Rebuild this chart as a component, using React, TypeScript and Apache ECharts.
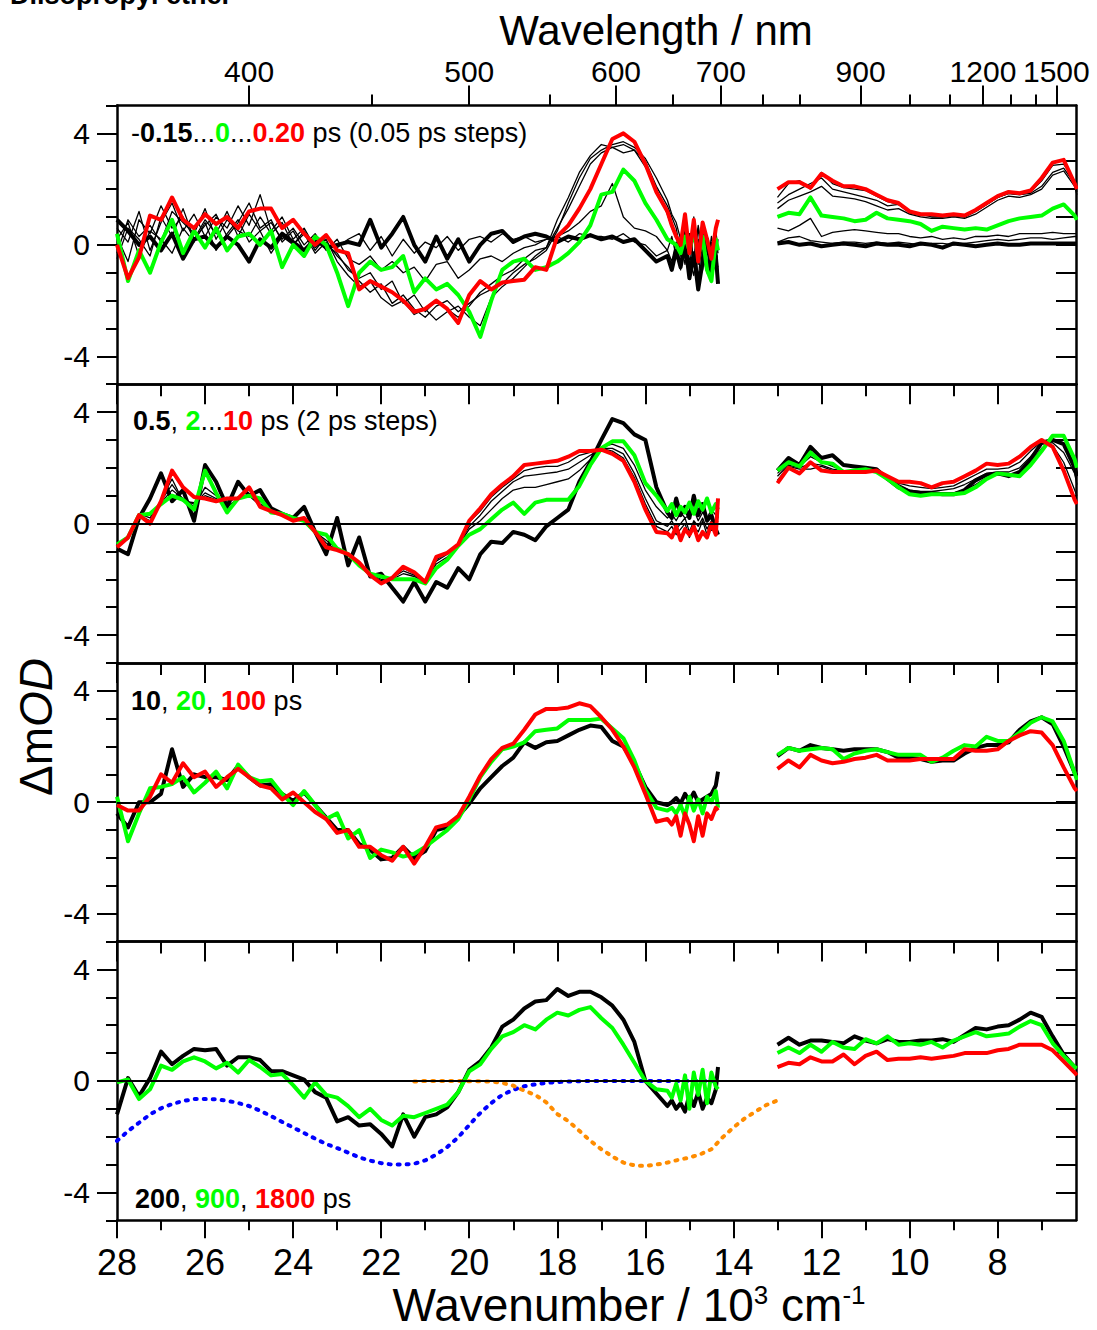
import React, { useEffect, useRef } from "react";
import * as echarts from "echarts";

// Wavenumber sampling (10^3 cm^-1) of the visible and NIR detector ranges;
// the visible range is sampled more densely near its noisy red edge.
const WN_VIS = [28, 27.75, 27.5, 27.25, 27, 26.75, 26.5, 26.25, 26, 25.75, 25.5, 25.25, 25, 24.75, 24.5, 24.25, 24, 23.75, 23.5, 23.25, 23, 22.75, 22.5, 22.25, 22, 21.75, 21.5, 21.25, 21, 20.75, 20.5, 20.25, 20, 19.75, 19.5, 19.25, 19, 18.75, 18.5, 18.25, 18, 17.75, 17.5, 17.25, 17, 16.75, 16.5, 16.25, 16, 15.75, 15.5, 15.4, 15.3, 15.2, 15.1, 15.0, 14.9, 14.8, 14.7, 14.6, 14.5, 14.4, 14.35];
const WN_NIR = [13, 12.75, 12.5, 12.25, 12, 11.75, 11.5, 11.25, 11, 10.75, 10.5, 10.25, 10, 9.75, 9.5, 9.25, 9, 8.75, 8.5, 8.25, 8, 7.75, 7.5, 7.25, 7, 6.75, 6.5, 6.25, 6.2];

// Panel 1: -0.15 ... 0.20 ps
const P1_M015_VIS = [0.9, 0.5, 0.0, 0.3, -0.2, 0.4, -0.5, 0.2, 0.3, -0.1, 0.3, 0.0, -0.6, 0.2, -0.1, 0.4, 0.1, -0.2, 0.2, -0.1, 0.0, 0.1, 0.0, 0.9, -0.1, 0.4, 1.0, 0.0, -0.6, 0.3, -0.5, 0.2, -0.6, 0.0, 0.4, 0.5, 0.1, 0.3, 0.4, 0.3, 0.1, 0.3, 0.2, 0.35, 0.2, 0.3, 0.1, 0.2, -0.2, -0.6, -0.4, -0.9, -0.2, -0.8, 0.1, -1.2, -0.3, -1.6, -0.6, 0.2, -1.0, -0.4, -1.4];
const P1_M015_NIR = [0.05, 0.1, 0.0, 0.05, -0.05, 0.0, 0.05, 0.0, -0.05, 0.05, 0.0, 0.0, -0.05, 0.05, 0.0, -0.1, 0.05, 0.0, -0.05, 0.0, 0.05, 0.0, 0.0, 0.05, 0.05, 0.05, 0.05, 0.05, 0.05];
const P1_M010_VIS = [0.2, 0.8, -0.4, 0.5, 0.2, -0.3, 0.6, 0.1, 0.8, -0.2, 0.4, 0.9, 0.1, 0.5, -0.3, 0.3, 0.0, 0.5, -0.2, 0.3, -0.1, 0.2, 0.4, -0.2, 0.3, -0.4, 0.2, -0.3, 0.1, -0.1, 0.3, -0.2, 0.2, 0.3, 0.1, 0.4, 0.2, 0.3, 0.1, 0.2, 0.3, 0.1, 0.4, 0.3, 0.3, 0.2, 0.4, 0.1, 0.0, -0.4, -0.2, -0.6, 0.1, -0.9, 0.3, -0.5, -1.1, 0.2, -0.4, -1.0, 0.1, -0.6, -0.8];
const P1_M010_NIR = [0.1, 0.25, 0.3, 0.15, 0.1, 0.05, 0.1, 0.1, 0.05, 0.1, 0.05, 0.1, 0.05, 0.0, 0.05, 0.05, 0.0, 0.05, 0.1, 0.15, 0.2, 0.15, 0.2, 0.25, 0.25, 0.2, 0.25, 0.3, 0.3];
const P1_M005_VIS = [-0.5, 0.6, 0.2, -0.4, 1.0, 0.3, 1.3, 0.2, 0.9, 0.4, 1.2, 0.3, 1.1, 0.5, 0.8, 0.2, 0.6, 0.0, 0.4, -0.2, 0.2, -0.5, -0.7, -0.4, -0.9, -0.6, -1.0, -0.8, -1.3, -0.7, -0.6, -1.2, -0.9, -0.5, -0.4, -0.6, -0.3, -0.1, 0.0, 0.2, 0.3, 0.5, 0.8, 1.2, 1.4, 2.2, 1.0, 0.6, 0.5, 0.3, -0.2, 0.3, -0.4, 0.1, -0.7, 0.4, -0.5, 0.6, -0.9, 0.2, -0.6, 0.3, -0.3];
const P1_M005_NIR = [0.6, 0.5, 0.7, 0.95, 0.3, 0.45, 0.5, 0.55, 0.5, 0.45, 0.4, 0.4, 0.3, 0.25, 0.3, 0.2, 0.25, 0.2, 0.3, 0.3, 0.35, 0.3, 0.4, 0.4, 0.4, 0.45, 0.4, 0.4, 0.4];
const P1_P000_VIS = [0.4, -1.3, -0.2, -1.0, 0.1, 0.9, -0.3, 0.5, -0.1, 0.6, -0.2, 0.3, 0.4, 0.0, 0.5, -0.8, 0.0, -0.4, 0.3, 0.0, -1.0, -2.2, -1.0, -0.6, -0.9, -0.8, -0.4, -1.7, -1.2, -1.6, -1.4, -1.8, -2.4, -3.3, -2.0, -0.9, -0.6, -0.5, -0.9, -0.8, -0.6, -0.3, 0.1, 0.7, 1.8, 1.9, 2.7, 2.3, 1.5, 0.9, 0.2, 0.1, 0.0, -0.3, 0.3, -0.2, 0.5, -0.4, 0.3, -0.9, -1.3, 0.2, -0.2];
const P1_P000_NIR = [1.0, 1.15, 1.1, 1.7, 1.05, 1.0, 0.95, 0.85, 0.9, 1.15, 0.95, 0.9, 0.85, 0.75, 0.5, 0.65, 0.6, 0.55, 0.6, 0.55, 0.7, 0.85, 0.95, 1.0, 1.05, 1.3, 1.45, 1.05, 0.9];
const P1_P005_VIS = [0.3, -0.6, 0.9, 0.4, 1.4, 0.6, 1.0, 0.2, 0.7, 1.1, 0.3, 0.8, 1.5, 0.6, 0.9, 0.1, 0.5, -0.2, 0.3, 0.0, -0.3, -0.9, -1.2, -1.0, -1.6, -1.3, -2.1, -1.8, -2.4, -2.0, -2.3, -2.6, -2.2, -1.7, -1.4, -1.1, -0.9, -0.5, -0.2, -0.1, 0.6, 1.3, 2.1, 2.9, 3.3, 3.5, 3.3, 3.4, 2.8, 2.0, 1.1, 0.6, 0.3, -0.4, 0.5, -0.2, 1.0, -0.7, 0.6, -0.9, 0.3, -0.5, 0.2];
const P1_P005_NIR = [1.3, 1.6, 1.75, 1.9, 2.1, 1.75, 1.7, 1.65, 1.55, 1.4, 1.25, 1.3, 1.1, 1.0, 0.95, 0.95, 1.0, 0.95, 1.1, 1.35, 1.6, 1.75, 1.7, 1.8, 2.0, 2.5, 2.65, 2.1, 1.8];
const P1_P010_VIS = [0.6, 0.1, 1.2, -0.2, 0.8, 1.5, 0.5, 1.1, 0.3, 1.0, 0.6, 1.4, 0.7, 1.8, 0.5, 1.0, 0.2, 0.6, -0.1, 0.2, -0.6, -1.1, -1.5, -1.3, -1.9, -2.2, -2.0, -2.5, -2.3, -2.7, -2.4, -2.2, -2.6, -2.9, -1.9, -1.5, -1.2, -0.8, -0.4, -0.1, 0.9, 1.7, 2.6, 3.2, 3.6, 3.5, 3.6, 3.4, 3.0, 2.1, 1.4, 1.0, 0.6, -0.3, 0.8, -0.8, 0.4, -1.2, 0.3, -0.6, -1.1, 0.5, -0.2];
const P1_P010_NIR = [1.5, 1.8, 2.0, 2.2, 2.4, 2.0, 1.9, 1.8, 1.7, 1.6, 1.4, 1.45, 1.2, 1.1, 1.0, 1.0, 1.05, 1.0, 1.2, 1.45, 1.7, 1.85, 1.8, 1.85, 2.1, 2.6, 2.75, 2.2, 1.9];
const P1_P015_VIS = [-0.3, 0.9, 0.3, 0.7, 0.1, 1.2, 0.8, 0.4, 1.3, 0.2, 0.9, 0.5, 0.3, 1.0, 0.4, 0.8, 0.0, 0.4, -0.3, 0.1, -0.4, -0.8, -1.3, -1.7, -1.4, -2.1, -1.8, -2.3, -2.6, -2.2, -2.0, -2.4, -2.1, -1.8, -1.6, -1.4, -1.0, -0.7, -0.5, -0.2, 0.5, 1.5, 2.4, 3.1, 3.4, 3.6, 3.7, 3.5, 3.1, 2.4, 1.6, 1.1, 0.8, 0.2, -0.5, 0.4, -0.6, 0.7, -0.3, 0.2, -1.0, 0.3, -1.0];
const P1_P015_NIR = [1.7, 2.2, 2.3, 2.0, 2.6, 2.2, 2.05, 2.0, 1.95, 1.75, 1.55, 1.45, 1.15, 1.05, 1.05, 1.0, 1.05, 1.0, 1.2, 1.45, 1.7, 1.85, 1.8, 1.9, 2.3, 2.85, 2.9, 2.3, 2.0];
const P1_P020_VIS = [0.0, -1.2, -0.45, 1.05, 0.9, 1.7, 0.9, 0.6, 1.1, 0.75, 1.0, 0.6, 1.2, 1.3, 1.3, 0.6, 0.9, 0.4, 0.0, 0.35, -0.2, -0.3, -1.6, -1.3, -1.5, -1.7, -2.0, -2.4, -2.3, -2.0, -2.3, -2.8, -1.8, -1.3, -1.6, -1.35, -1.3, -1.25, -0.8, -0.9, 0.3, 0.7, 1.3, 2.0, 2.9, 3.8, 4.0, 3.7, 2.9, 1.9, 1.2, 0.7, 0.3, 0.0, 1.1, -0.3, 0.9, -0.6, 0.8, 0.2, -0.5, 0.6, 0.9];
const P1_P020_NIR = [2.0, 2.25, 2.25, 2.05, 2.55, 2.3, 2.1, 2.1, 2.0, 1.8, 1.6, 1.5, 1.2, 1.1, 1.1, 1.05, 1.1, 1.05, 1.25, 1.5, 1.75, 1.9, 1.85, 1.95, 2.4, 2.95, 3.05, 2.2, 2.0];

// Panel 2: 0.5, 2 ... 10 ps
const P2_T05_VIS = [-0.9, -1.1, 0.2, 0.9, 1.8, 0.8, 1.2, 0.1, 2.1, 1.5, 0.6, 1.5, 1.0, 1.2, 0.55, 0.35, 0.2, 0.6, -0.3, -1.1, 0.2, -1.5, -0.5, -1.9, -1.8, -2.3, -2.8, -2.1, -2.8, -2.1, -2.3, -1.6, -2.0, -1.1, -0.65, -0.7, -0.3, -0.4, -0.6, -0.1, 0.2, 0.5, 1.5, 2.2, 3.0, 3.75, 3.6, 3.2, 3.0, 1.3, 0.4, 0.2, 0.9, 0.3, 0.6, 0.2, 1.0, 0.3, 0.7, 0.1, 0.3, -0.2, -0.4];
const P2_T05_NIR = [1.9, 2.35, 2.1, 2.75, 2.35, 2.45, 2.1, 2.05, 2.0, 1.95, 1.6, 1.3, 1.15, 1.1, 1.1, 1.05, 1.05, 1.2, 1.55, 1.75, 1.8, 1.7, 1.85, 2.3, 2.9, 3.0, 2.85, 2.0, 1.7];
const P2_T2_VIS = [-0.75, -0.5, 0.3, 0.35, 0.7, 1.0, 0.85, 0.5, 1.9, 1.1, 0.4, 0.9, 1.0, 0.9, 0.4, 0.35, 0.2, 0.1, -0.3, -0.4, -0.9, -1.1, -1.5, -1.8, -1.9, -2.0, -2.0, -2.0, -2.15, -1.6, -1.3, -0.8, -0.4, -0.2, 0.15, 0.5, 0.75, 0.35, 0.75, 0.85, 0.85, 0.85, 1.35, 2.1, 2.7, 2.95, 2.95, 2.45, 1.45, 1.0, 0.45, 0.7, 0.3, 0.6, 0.4, 0.75, 0.35, 0.8, 0.5, 0.9, 0.4, 0.7, 0.5];
const P2_T2_NIR = [1.9, 2.2, 2.05, 2.55, 2.2, 2.15, 1.85, 1.9, 1.95, 1.85, 1.6, 1.3, 1.05, 1.0, 1.05, 1.05, 1.05, 1.1, 1.3, 1.6, 1.8, 1.75, 1.7, 2.1, 2.6, 3.15, 3.15, 2.3, 2.0];
const P2_T4_VIS = [-0.8, -0.45, 0.3, 0.3, 0.75, 1.2, 0.9, 0.6, 1.3, 1.0, 0.6, 0.9, 1.05, 0.8, 0.45, 0.35, 0.15, 0.2, -0.3, -0.6, -0.9, -1.1, -1.5, -1.8, -2.0, -2.0, -1.8, -1.9, -2.1, -1.45, -1.2, -0.8, -0.2, 0.1, 0.5, 0.9, 1.2, 1.3, 1.3, 1.4, 1.5, 1.6, 1.9, 2.3, 2.75, 2.85, 2.7, 2.1, 1.2, 0.6, 0.2, 0.35, 0.1, 0.4, 0.2, 0.3, 0.5, 0.1, 0.4, 0.2, 0.5, 0.3, 0.2];
const P2_T4_NIR = [1.8, 2.15, 2.05, 2.4, 2.2, 2.05, 1.9, 1.9, 1.95, 1.85, 1.6, 1.35, 1.1, 1.05, 1.1, 1.1, 1.1, 1.2, 1.4, 1.65, 1.75, 1.75, 1.8, 2.2, 2.7, 3.0, 2.9, 2.3, 1.8];
const P2_T6_VIS = [-0.85, -0.5, 0.35, 0.2, 0.8, 1.4, 0.85, 0.7, 1.1, 0.9, 0.75, 0.95, 1.0, 0.7, 0.5, 0.3, 0.1, 0.2, -0.3, -0.7, -0.95, -1.1, -1.45, -1.85, -2.05, -1.95, -1.7, -1.85, -2.1, -1.35, -1.1, -0.75, -0.1, 0.3, 0.8, 1.15, 1.5, 1.7, 1.75, 1.8, 1.85, 1.95, 2.2, 2.45, 2.7, 2.7, 2.5, 1.8, 0.9, 0.1, -0.1, 0.1, -0.2, 0.0, 0.2, -0.3, 0.1, -0.1, 0.2, -0.2, 0.1, 0.0, 0.1];
const P2_T6_NIR = [1.7, 2.1, 2.0, 2.15, 2.1, 1.95, 1.9, 1.85, 1.9, 1.85, 1.65, 1.4, 1.2, 1.15, 1.15, 1.2, 1.25, 1.4, 1.6, 1.8, 1.85, 1.85, 2.0, 2.4, 2.85, 2.9, 2.55, 1.8, 1.4];
const P2_T8_VIS = [-0.8, -0.55, 0.3, 0.1, 0.85, 1.6, 0.8, 0.75, 1.0, 0.85, 0.85, 0.9, 1.0, 0.65, 0.5, 0.3, 0.1, 0.2, -0.3, -0.8, -0.95, -1.1, -1.4, -1.85, -2.1, -1.95, -1.6, -1.8, -2.1, -1.3, -1.05, -0.75, 0.05, 0.45, 0.95, 1.3, 1.6, 1.9, 2.0, 2.05, 2.05, 2.2, 2.45, 2.55, 2.7, 2.6, 2.35, 1.65, 0.7, -0.1, -0.3, -0.1, -0.4, -0.2, 0.0, -0.5, -0.1, -0.3, 0.1, -0.4, -0.2, -0.3, 0.3];
const P2_T8_NIR = [1.55, 2.05, 1.95, 1.95, 2.05, 1.9, 1.85, 1.85, 1.85, 1.85, 1.65, 1.45, 1.35, 1.3, 1.25, 1.3, 1.35, 1.55, 1.75, 1.95, 1.95, 2.0, 2.2, 2.6, 2.95, 2.8, 2.2, 1.2, 1.0];
const P2_T10_VIS = [-0.85, -0.5, 0.3, 0.0, 0.8, 1.9, 1.3, 0.95, 0.9, 0.8, 0.9, 0.9, 1.3, 0.6, 0.45, 0.3, 0.1, 0.2, -0.3, -0.85, -0.95, -1.1, -1.4, -1.85, -2.15, -1.95, -1.55, -1.75, -2.1, -1.2, -1.05, -0.75, 0.1, 0.55, 1.05, 1.4, 1.7, 2.1, 2.15, 2.2, 2.25, 2.4, 2.6, 2.6, 2.65, 2.5, 2.25, 1.5, 0.5, -0.3, -0.35, -0.5, -0.1, -0.6, -0.2, -0.4, -0.1, -0.6, -0.3, -0.5, 0.0, -0.4, 0.9];
const P2_T10_NIR = [1.45, 2.0, 1.8, 2.2, 1.9, 1.85, 1.85, 1.85, 1.85, 1.9, 1.7, 1.5, 1.5, 1.45, 1.3, 1.45, 1.5, 1.7, 1.9, 2.15, 2.1, 2.15, 2.4, 2.75, 3.0, 2.75, 1.9, 0.85, 0.7];

// Panel 3: 10, 20, 100 ps
const P3_T10_VIS = [-0.4, -0.9, 0.0, 0.0, 0.3, 1.9, 0.55, 1.0, 0.9, 0.9, 0.8, 1.3, 0.9, 0.6, 0.65, 0.3, 0.05, 0.35, -0.1, -0.55, -1.0, -1.0, -1.5, -1.7, -2.05, -2.0, -1.6, -2.0, -1.75, -1.0, -0.9, -0.5, -0.05, 0.5, 0.9, 1.3, 1.6, 2.15, 1.95, 2.15, 2.2, 2.4, 2.6, 2.75, 2.7, 2.2, 2.0, 1.4, 0.55, 0.0, -0.1, 0.0, 0.15, -0.05, 0.3, 0.05, 0.35, 0.0, 0.1, 0.2, 0.3, 0.6, 1.1];
const P3_T10_NIR = [1.65, 1.95, 1.85, 2.05, 1.95, 1.9, 1.85, 1.9, 1.9, 1.9, 1.8, 1.6, 1.6, 1.55, 1.45, 1.5, 1.5, 1.75, 1.95, 2.05, 2.05, 2.15, 2.6, 2.9, 3.05, 2.8, 2.0, 1.05, 0.95];
const P3_T20_VIS = [0.2, -1.4, -0.4, 0.5, 0.55, 0.65, 0.9, 0.35, 0.7, 1.1, 0.5, 1.35, 0.9, 0.75, 0.8, 0.3, -0.1, 0.4, -0.1, -0.6, -0.4, -1.3, -1.0, -2.0, -1.7, -1.8, -1.95, -1.85, -1.6, -1.3, -1.0, -0.6, 0.1, 0.9, 1.45, 1.9, 2.0, 2.15, 2.55, 2.6, 2.65, 2.95, 2.95, 2.95, 3.0, 2.65, 2.3, 1.5, 0.45, -0.2, -0.3, -0.2, -0.4, -0.1, -0.5, 0.2, -0.3, 0.1, -0.4, 0.2, 0.0, 0.4, -0.2];
const P3_T20_NIR = [1.7, 1.95, 1.85, 1.9, 1.95, 1.9, 1.55, 1.75, 1.85, 1.9, 1.8, 1.7, 1.7, 1.7, 1.45, 1.6, 1.85, 2.05, 2.0, 2.35, 2.2, 2.2, 2.5, 2.85, 3.05, 2.9, 2.2, 1.05, 0.8];
const P3_T100_VIS = [-0.1, -0.3, -0.3, 0.2, 1.0, 0.7, 1.4, 0.9, 1.1, 0.55, 0.9, 1.2, 0.9, 0.6, 0.5, 0.1, 0.35, 0.0, -0.35, -0.6, -1.1, -1.0, -1.6, -1.6, -1.9, -2.1, -1.6, -2.2, -1.6, -0.9, -0.8, -0.5, 0.2, 0.95, 1.55, 1.95, 2.1, 2.6, 3.15, 3.35, 3.35, 3.4, 3.55, 3.45, 3.05, 2.6, 2.0, 1.25, 0.3, -0.7, -0.6, -0.8, -0.5, -1.2, -0.4, -0.8, -1.4, -0.5, -1.2, -0.4, -0.6, -0.2, -0.3];
const P3_T100_NIR = [1.2, 1.5, 1.25, 1.7, 1.5, 1.4, 1.45, 1.55, 1.6, 1.7, 1.5, 1.5, 1.5, 1.55, 1.55, 1.55, 1.55, 1.9, 1.85, 1.85, 1.9, 2.2, 2.4, 2.55, 2.5, 2.05, 1.25, 0.5, 0.4];

// Panel 4: 200, 900, 1800 ps and the two reference bands
const P4_T200_VIS = [-1.2, 0.1, -0.55, 0.1, 1.05, 0.6, 0.9, 1.15, 1.1, 1.15, 0.55, 0.85, 0.85, 0.75, 0.35, 0.35, 0.2, 0.05, -0.4, -0.6, -1.45, -1.3, -1.6, -1.55, -1.9, -2.35, -1.2, -2.0, -1.3, -1.2, -0.95, -0.4, 0.4, 0.7, 1.2, 1.95, 2.2, 2.6, 2.85, 2.9, 3.3, 3.05, 3.2, 3.2, 3.0, 2.7, 2.2, 1.4, 0.0, -0.45, -0.9, -0.7, -1.0, -0.8, -1.1, -0.5, -0.9, -0.4, -1.0, -0.6, -0.8, -0.3, 0.5];
const P4_T200_NIR = [1.3, 1.55, 1.3, 1.45, 1.45, 1.4, 1.35, 1.6, 1.45, 1.35, 1.5, 1.4, 1.4, 1.45, 1.45, 1.5, 1.4, 1.65, 1.9, 1.85, 1.95, 2.0, 2.2, 2.45, 2.3, 1.6, 0.95, 0.5, 0.45];
const P4_T900_VIS = [-0.05, 0.05, -0.65, -0.3, 0.55, 0.4, 0.7, 0.85, 0.7, 0.45, 0.65, 0.3, 0.75, 0.5, 0.2, 0.25, -0.15, -0.6, -0.05, -0.5, -0.6, -0.9, -1.3, -1.0, -1.4, -1.6, -1.25, -1.3, -1.15, -1.0, -0.85, -0.4, 0.35, 0.6, 1.15, 1.6, 1.75, 2.0, 1.85, 2.2, 2.45, 2.35, 2.55, 2.65, 2.25, 1.9, 1.3, 0.65, 0.0, -0.3, -0.35, -0.6, -0.1, -0.7, 0.2, -1.0, 0.3, -0.5, 0.4, -0.8, 0.3, -0.2, -0.3];
const P4_T900_NIR = [1.0, 1.2, 1.0, 1.3, 1.05, 1.4, 1.2, 1.15, 1.5, 1.35, 1.6, 1.3, 1.35, 1.3, 1.4, 1.2, 1.45, 1.6, 1.75, 1.6, 1.65, 1.7, 1.95, 2.15, 2.0, 1.35, 0.9, 0.5, 0.45];
const P4_T1800_NIR = [0.5, 0.65, 0.6, 0.85, 0.7, 0.7, 0.95, 0.6, 0.9, 1.05, 0.75, 0.8, 0.8, 0.85, 0.8, 0.85, 0.9, 1.0, 1.0, 1.0, 1.1, 1.15, 1.3, 1.3, 1.3, 1.1, 0.7, 0.3, 0.2];
const P4_BAND_BLUE = [-2.15, -1.8, -1.5, -1.2, -0.98, -0.83, -0.72, -0.65, -0.65, -0.66, -0.71, -0.79, -0.9, -1.07, -1.26, -1.47, -1.67, -1.87, -2.07, -2.26, -2.41, -2.57, -2.74, -2.86, -2.95, -3.0, -3.0, -2.97, -2.85, -2.64, -2.37, -2.02, -1.58, -1.15, -0.79, -0.5, -0.32, -0.19, -0.12, -0.07, -0.04, -0.02, -0.01, 0, 0, 0, 0, 0, 0, 0, 0, 0, 0, 0, 0, 0, 0, 0, 0, 0, 0, 0, 0];
const WN_ORANGE = [21.25, 21, 20.75, 20.5, 20.25, 20, 19.75, 19.5, 19.25, 19, 18.75, 18.5, 18.25, 18, 17.75, 17.5, 17.25, 17, 16.75, 16.5, 16.25, 16, 15.75, 15.5, 15.25, 15, 14.75, 14.5, 14.25, 14, 13.75, 13.5, 13.25, 13];
const P4_BAND_ORANGE = [-0.02, 0, 0, 0, 0, -0.01, -0.01, -0.02, -0.07, -0.17, -0.35, -0.5, -0.77, -1.19, -1.44, -1.79, -2.15, -2.45, -2.71, -2.93, -3.03, -3.05, -3.0, -2.93, -2.83, -2.75, -2.63, -2.45, -2.03, -1.67, -1.35, -1.1, -0.86, -0.7];

// Axis ticks
const WN_MAJOR = [8, 10, 12, 14, 16, 18, 20, 22, 24, 26, 28];
const WN_MINOR = [7, 9, 11, 13, 15, 17, 19, 21, 23, 25, 27];
const NM_MAJOR = [400, 500, 600, 700, 900, 1200, 1500];
const NM_MINOR = [450, 550, 650, 750, 800, 1000, 1100, 1300, 1400];
const Y_MAJOR = [-4, 0, 4];
const Y_MINOR = [-5, -3, -2, -1, 1, 2, 3, 5];
const Y_RIGHT = [-4, -3, -2, -1, 0, 1, 2, 3, 4];

const X_MIN = 6.22;
const X_MAX = 28;
const Y_MIN = -5;
const Y_MAX = 5;

const PANEL_TOPS = [105.5, 384.2, 662.9, 941.6];
const PANEL_H = 278.7;
const GRID_LEFT = 117;
const GRID_RIGHT = 21;

const BLACK = "#000000";
const GREEN = "#00ff00";
const RED = "#ff0000";
const BLUE = "#0000ff";
const ORANGE = "#ff8c00";

const FONT = '"Liberation Sans", Arial, Helvetica, sans-serif';
const NARROW = '"Liberation Sans Narrow", "Arial Narrow", "Liberation Sans", Arial, sans-serif';
const LEGEND_SIZE = 27;

type Trace = {
  name: string;
  vis?: number[];
  nir?: number[];
  xs?: number[];
  ys?: number[];
  color: string;
  width: number;
  dotted?: boolean;
};

const THICK = 4;
const THIN = 1.3;

const PANELS: { traces: Trace[]; zeroLine: boolean; legend: string; legendX: number; legendY: number }[] = [
  {
    zeroLine: false,
    legend: "{k|-}{kb|0.15}{k|...}{gb|0}{k|...}{rb|0.20}{k| ps (0.05 ps steps)}",
    legendX: 131,
    legendY: 133,
    traces: [
      { name: "-0.10 ps", vis: P1_M010_VIS, nir: P1_M010_NIR, color: BLACK, width: THIN },
      { name: "-0.05 ps", vis: P1_M005_VIS, nir: P1_M005_NIR, color: BLACK, width: THIN },
      { name: "0.05 ps", vis: P1_P005_VIS, nir: P1_P005_NIR, color: BLACK, width: THIN },
      { name: "0.10 ps", vis: P1_P010_VIS, nir: P1_P010_NIR, color: BLACK, width: THIN },
      { name: "0.15 ps", vis: P1_P015_VIS, nir: P1_P015_NIR, color: BLACK, width: THIN },
      { name: "-0.15 ps", vis: P1_M015_VIS, nir: P1_M015_NIR, color: BLACK, width: THICK },
      { name: "0 ps", vis: P1_P000_VIS, nir: P1_P000_NIR, color: GREEN, width: THICK },
      { name: "0.20 ps", vis: P1_P020_VIS, nir: P1_P020_NIR, color: RED, width: THICK },
    ],
  },
  {
    zeroLine: true,
    legend: "{kb|0.5}{k|, }{gb|2}{k|...}{rb|10}{k| ps (2 ps steps)}",
    legendX: 133,
    legendY: 421,
    traces: [
      { name: "4 ps", vis: P2_T4_VIS, nir: P2_T4_NIR, color: BLACK, width: THIN },
      { name: "6 ps", vis: P2_T6_VIS, nir: P2_T6_NIR, color: BLACK, width: THIN },
      { name: "8 ps", vis: P2_T8_VIS, nir: P2_T8_NIR, color: BLACK, width: THIN },
      { name: "0.5 ps", vis: P2_T05_VIS, nir: P2_T05_NIR, color: BLACK, width: THICK },
      { name: "2 ps", vis: P2_T2_VIS, nir: P2_T2_NIR, color: GREEN, width: THICK },
      { name: "10 ps", vis: P2_T10_VIS, nir: P2_T10_NIR, color: RED, width: THICK },
    ],
  },
  {
    zeroLine: true,
    legend: "{kb|10}{k|, }{gb|20}{k|, }{rb|100}{k| ps}",
    legendX: 131,
    legendY: 701,
    traces: [
      { name: "10 ps", vis: P3_T10_VIS, nir: P3_T10_NIR, color: BLACK, width: THICK },
      { name: "20 ps", vis: P3_T20_VIS, nir: P3_T20_NIR, color: GREEN, width: THICK },
      { name: "100 ps", vis: P3_T100_VIS, nir: P3_T100_NIR, color: RED, width: THICK },
    ],
  },
  {
    zeroLine: true,
    legend: "{kb|200}{k|, }{gb|900}{k|, }{rb|1800}{k| ps}",
    legendX: 135,
    legendY: 1199,
    traces: [
      { name: "band A", vis: P4_BAND_BLUE, color: BLUE, width: 4, dotted: true },
      { name: "band B", xs: WN_ORANGE, ys: P4_BAND_ORANGE, color: ORANGE, width: 4, dotted: true },
      { name: "200 ps", vis: P4_T200_VIS, nir: P4_T200_NIR, color: BLACK, width: THICK },
      { name: "900 ps", vis: P4_T900_VIS, nir: P4_T900_NIR, color: GREEN, width: THICK },
      { name: "1800 ps", nir: P4_T1800_NIR, color: RED, width: THICK },
    ],
  },
];

function traceData(t: Trace) {
  if (t.xs && t.ys) return t.xs.map((x, i) => [x, t.ys![i]]);
  const out: any[] = [];
  if (t.vis) WN_VIS.forEach((x, i) => out.push([x, t.vis![i]]));
  if (t.vis && t.nir) out.push([13.7, "-"]); // no data between the two detectors
  if (t.nir) WN_NIR.forEach((x, i) => out.push([x, t.nir![i]]));
  return out;
}

const frameLine = { color: BLACK, width: 2.5 };
const tickLine = { color: BLACK, width: 2 };

function xBase(gridIndex: number, position: string, showLine: boolean) {
  return {
    type: "value",
    gridIndex,
    position,
    min: X_MIN,
    max: X_MAX,
    inverse: true,
    axisLine: { show: showLine, onZero: false, lineStyle: frameLine },
    axisTick: { show: false },
    axisLabel: { show: false },
    splitLine: { show: false },
  };
}

function yBase(gridIndex: number, position: string, showLine: boolean) {
  return {
    type: "value",
    gridIndex,
    position,
    min: Y_MIN,
    max: Y_MAX,
    axisLine: { show: showLine, onZero: false, lineStyle: frameLine },
    axisTick: { show: false },
    axisLabel: { show: false },
    splitLine: { show: false },
  };
}

function buildOption() {
  const grids: any[] = [];
  const xAxes: any[] = [];
  const yAxes: any[] = [];
  const series: any[] = [];

  PANEL_TOPS.forEach((top, p) => {
    grids.push({ left: GRID_LEFT, right: GRID_RIGHT, top, height: PANEL_H, containLabel: false, outerBoundsMode: "none" });

    // bottom axis carries the data scale
    const mainX = xAxes.length;
    const bottom: any = xBase(p, "bottom", true);
    if (p === PANEL_TOPS.length - 1) {
      bottom.axisTick = { show: true, inside: false, length: 18, customValues: WN_MAJOR, lineStyle: tickLine };
      bottom.axisLabel = {
        show: true,
        customValues: WN_MAJOR,
        margin: 24,
        fontSize: 36,
        fontFamily: NARROW,
        color: BLACK,
      };
      xAxes.push(bottom);
      const minor: any = xBase(p, "bottom", false);
      minor.axisTick = { show: true, inside: false, length: 10, customValues: WN_MINOR, lineStyle: tickLine };
      xAxes.push(minor);
    } else {
      xAxes.push(bottom);
    }

    if (p === 0) {
      // wavelength scale along the top
      const nmMajor: any = xBase(p, "top", true);
      nmMajor.axisTick = { show: true, inside: false, length: 20, customValues: NM_MAJOR.map((nm) => 1e4 / nm), lineStyle: tickLine };
      nmMajor.axisLabel = {
        show: true,
        customValues: NM_MAJOR.map((nm) => 1e4 / nm),
        formatter: (v: number) => String(Math.round(1e4 / v)),
        margin: 19,
        fontSize: 30,
        fontFamily: FONT,
        color: BLACK,
      };
      xAxes.push(nmMajor);
      const nmMinor: any = xBase(p, "top", false);
      nmMinor.axisTick = { show: true, inside: false, length: 11, customValues: NM_MINOR.map((nm) => 1e4 / nm), lineStyle: tickLine };
      xAxes.push(nmMinor);
    } else {
      const topMajor: any = xBase(p, "top", true);
      topMajor.axisTick = { show: true, inside: true, length: 20, customValues: WN_MAJOR, lineStyle: tickLine };
      xAxes.push(topMajor);
      const topMinor: any = xBase(p, "top", false);
      topMinor.axisTick = { show: true, inside: true, length: 12, customValues: WN_MINOR, lineStyle: tickLine };
      xAxes.push(topMinor);
    }

    const mainY = yAxes.length;
    const left: any = yBase(p, "left", true);
    left.axisTick = { show: true, inside: false, length: 20, customValues: Y_MAJOR, lineStyle: tickLine };
    left.axisLabel = { show: true, customValues: Y_MAJOR, margin: 27, fontSize: 30, fontFamily: FONT, color: BLACK };
    yAxes.push(left);
    const leftMinor: any = yBase(p, "left", false);
    leftMinor.axisTick = { show: true, inside: false, length: 11, customValues: Y_MINOR, lineStyle: tickLine };
    yAxes.push(leftMinor);
    const right: any = yBase(p, "right", true);
    right.axisTick = { show: true, inside: true, length: 20, customValues: Y_RIGHT, lineStyle: tickLine };
    yAxes.push(right);

    const panel = PANELS[p];
    panel.traces.forEach((t, k) => {
      const s: any = {
        type: "line",
        name: t.name,
        xAxisIndex: mainX,
        yAxisIndex: mainY,
        data: traceData(t),
        showSymbol: false,
        symbol: "none",
        connectNulls: false,
        silent: true,
        lineStyle: t.dotted
          ? { color: t.color, width: t.width, type: [2, 7], cap: "round", join: "round" }
          : { color: t.color, width: t.width, join: "round" },
        itemStyle: { color: t.color },
        z: 2 + k * 0.01,
      };
      if (k === 0 && panel.zeroLine) {
        s.markLine = {
          silent: true,
          symbol: "none",
          label: { show: false },
          lineStyle: { color: BLACK, width: 2, type: "solid" },
          data: [{ yAxis: 0 }],
        };
      }
      series.push(s);
    });
  });

  // rich-text fragments of the in-panel delay legends
  const legendRich = {
    k: { fontSize: LEGEND_SIZE, fontFamily: FONT, fill: BLACK },
    kb: { fontSize: LEGEND_SIZE, fontFamily: FONT, fontWeight: "bold", fill: BLACK },
    gb: { fontSize: LEGEND_SIZE, fontFamily: FONT, fontWeight: "bold", fill: GREEN },
    rb: { fontSize: LEGEND_SIZE, fontFamily: FONT, fontWeight: "bold", fill: RED },
  };

  const graphic: any[] = [
    {
      type: "text",
      x: 10,
      y: -5,
      style: { text: "Diisopropyl ether", fontSize: 27, fontWeight: "bold", fontFamily: FONT, fill: BLACK, align: "left", verticalAlign: "middle" },
    },
    {
      type: "text",
      x: 656,
      y: 30,
      style: { text: "Wavelength / nm", fontSize: 42, fontFamily: FONT, fill: BLACK, align: "center", verticalAlign: "middle" },
    },
    {
      type: "text",
      x: 629,
      y: 1305,
      style: {
        text: "{n|Wavenumber / 10}{s|3}{n| cm}{s|-1}",
        align: "center",
        verticalAlign: "middle",
        rich: {
          n: { fontSize: 46, fontFamily: FONT, fill: BLACK },
          s: { fontSize: 26, fontFamily: FONT, fill: BLACK, verticalAlign: "top" },
        },
      },
    },
    {
      type: "text",
      x: 36,
      y: 727,
      rotation: Math.PI / 2,
      style: {
        text: "{n|\u0394m}{i|OD}",
        align: "center",
        verticalAlign: "middle",
        rich: {
          n: { fontSize: 46, fontFamily: FONT, fill: BLACK },
          i: { fontSize: 46, fontFamily: FONT, fontStyle: "italic", fill: BLACK },
        },
      },
    },
  ];
  PANELS.forEach((panel) => {
    graphic.push({
      type: "text",
      x: panel.legendX,
      y: panel.legendY,
      style: { text: panel.legend, rich: legendRich, align: "left", verticalAlign: "middle" },
    });
  });

  return {
    animation: false,
    backgroundColor: "#ffffff",
    grid: grids,
    xAxis: xAxes,
    yAxis: yAxes,
    series,
    graphic,
  };
}

export default function App() {
  const ref = useRef<HTMLDivElement>(null);
  useEffect(() => {
    if (!ref.current) return;
    const chart = echarts.init(ref.current, undefined, { renderer: "svg" });
    chart.setOption(buildOption() as any);
    return () => chart.dispose();
  }, []);
  return (
    <div
      ref={ref}
      style={{ position: "absolute", left: 0, top: 0, width: 1097, height: 1330, background: "#ffffff" }}
    />
  );
}
